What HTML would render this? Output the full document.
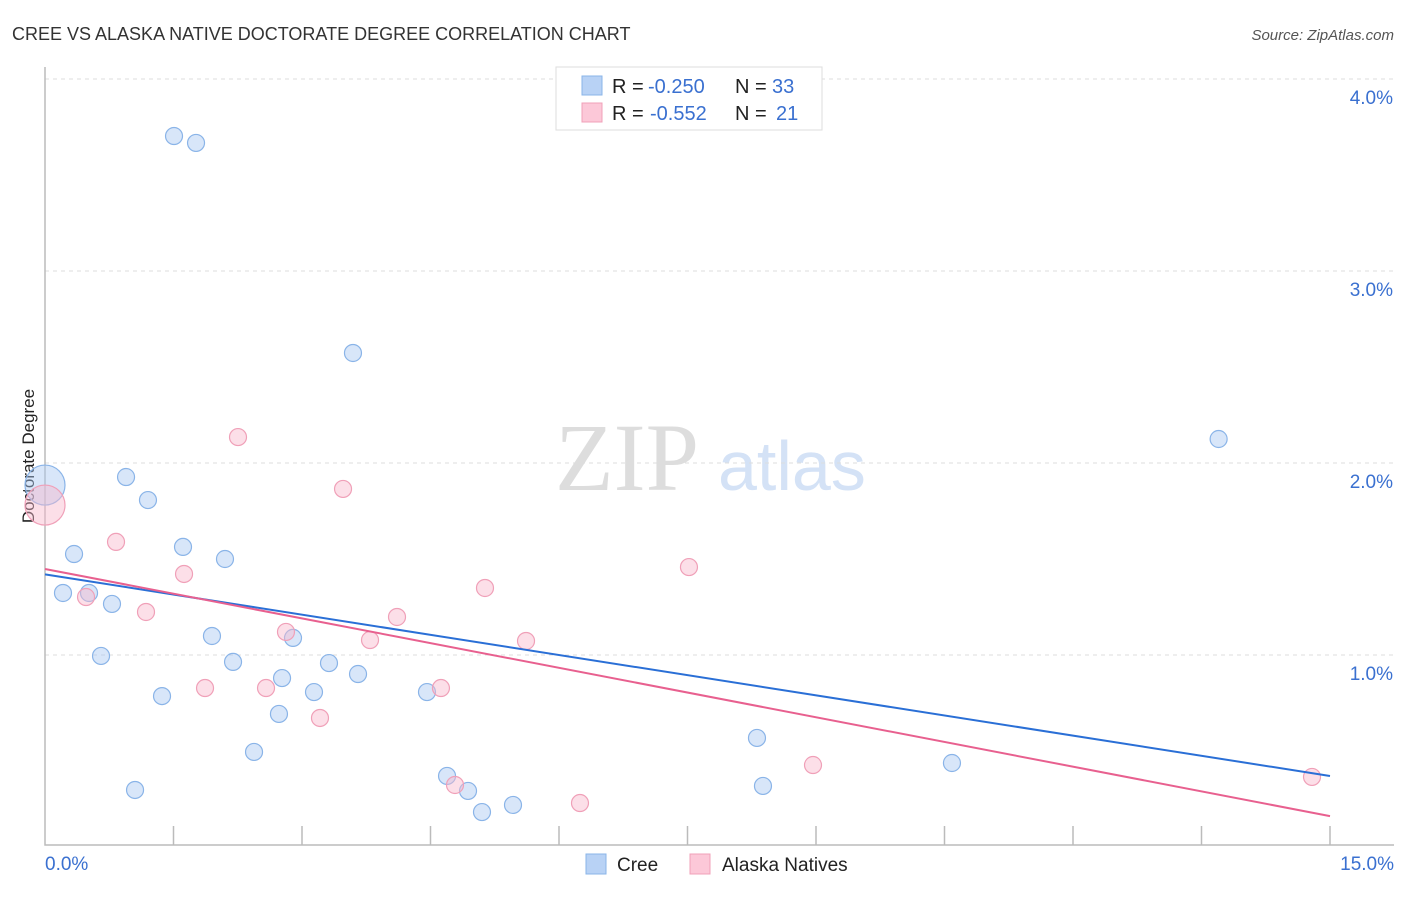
<!DOCTYPE html>
<html><head><meta charset="utf-8"><style>
body{margin:0;background:#fff;font-family:"Liberation Sans",sans-serif}
</style></head><body>
<svg id="c" width="1406" height="892" xmlns="http://www.w3.org/2000/svg">
<text x="12" y="40" font-size="18" fill="#333">CREE VS ALASKA NATIVE DOCTORATE DEGREE CORRELATION CHART</text>
<text x="1394" y="40" font-size="15" fill="#555" font-style="italic" text-anchor="end">Source: ZipAtlas.com</text>
<text x="34" y="456" font-size="17" fill="#222" text-anchor="middle" transform="rotate(-90 34 456)">Doctorate Degree</text>
<g><text x="555" y="490" font-size="96" fill="#ddd" font-family="Liberation Serif,serif">ZIP</text><text x="718" y="490" font-size="70" fill="#d4e2f6">atlas</text></g>
<g id="grid"></g><g id="pts"></g><g id="lines"></g>
<g>
<rect x="556" y="67" width="266" height="63" fill="#fff" stroke="#ddd"/>
<rect x="582" y="76" width="20" height="19" fill="#b8d2f5" stroke="#8ab4e8"/>
<rect x="582" y="103" width="20" height="19" fill="#fcc8d8" stroke="#f0a0b8"/>
<text x="612" y="93" font-size="20" fill="#222">R =</text>
<text x="648" y="93" font-size="20" fill="#3a70d0">-0.250</text>
<text x="735" y="93" font-size="20" fill="#222">N =</text>
<text x="772" y="93" font-size="20" fill="#3a70d0">33</text>
<text x="612" y="120" font-size="20" fill="#222">R =</text>
<text x="650" y="120" font-size="20" fill="#3a70d0">-0.552</text>
<text x="735" y="120" font-size="20" fill="#222">N =</text>
<text x="776" y="120" font-size="20" fill="#3a70d0">21</text>
</g>
<g>
<rect x="586" y="854" width="20" height="20" fill="#b8d2f5" stroke="#8ab4e8"/>
<text x="617" y="871" font-size="19" fill="#222">Cree</text>
<rect x="690" y="854" width="20" height="20" fill="#fcc8d8" stroke="#f0a0b8"/>
<text x="722" y="871" font-size="19" fill="#222">Alaska Natives</text>
</g>
</svg>
<script>
const creeX=[1.506,1.763,3.595,13.70,0.946,1.202,0.339,1.611,2.101,0.21,0.514,0.782,1.949,2.895,0.654,2.195,3.315,3.654,2.767,3.14,1.366,4.459,2.731,2.44,8.311,10.587,4.693,4.938,1.051,8.381,5.463,5.101,0];
const creeY=[3.703,3.667,2.573,2.125,1.927,1.807,1.526,1.563,1.5,1.323,1.323,1.266,1.099,1.089,0.995,0.964,0.958,0.901,0.880,0.807,0.786,0.807,0.693,0.495,0.568,0.4375,0.37,0.292,0.297,0.318,0.219,0.182,1.885];
const akX=[2.253,3.479,0,0.829,1.623,7.517,5.136,0.479,1.179,4.109,2.813,3.794,5.615,1.868,2.58,4.622,3.21,4.786,8.965,6.245,14.79];
const akY=[2.135,1.865,1.781,1.589,1.422,1.458,1.349,1.302,1.224,1.198,1.12,1.078,1.073,0.828,0.828,0.828,0.672,0.323,0.427,0.229,0.365];
const creeTrend=[1.42,0.37];
const akTrend=[1.448,0.161];
const yTicks=[1,2,3,4];
const xTickLabels=["0.0%","15.0%"];
const sx=v=>45+v/15*1285, sy=v=>847-v*192;
const NS="http://www.w3.org/2000/svg";
const svg=document.getElementById('c');
function mk(tag,attrs,parent){const e=document.createElementNS(NS,tag);for(const k in attrs)e.setAttribute(k,attrs[k]);parent.appendChild(e);return e;}
const grid=document.getElementById('grid');
yTicks.forEach(t=>{
 const l=mk('line',{x1:45,x2:1394,y1:sy(t),y2:sy(t),stroke:'#ddd','stroke-dasharray':'4,4'},grid);
 
 
 const tx=mk('text',{x:1393,y:sy(t)+25,'font-size':19,fill:'#3a70d0','text-anchor':'end'},grid);
 tx.textContent=t.toFixed(1)+'%';
 
 
});
const ax=mk('path',{d:'M45 67V845H1394',fill:'none',stroke:'#bbb','stroke-width':1.5},grid);


for(let i=1;i<=10;i++){const t=mk('line',{x1:sx(i*1.5),x2:sx(i*1.5),y1:826,y2:845,stroke:'#bbb','stroke-width':1.5},grid);
 
 }
[[0,45,'start'],[15,1394,'end']].forEach((a,i)=>{const t=mk('text',{x:a[1],y:870,'font-size':19,fill:'#3a70d0','text-anchor':a[2]},grid);t.textContent=xTickLabels[i];
 
 });
const pts=document.getElementById('pts');
function series(X,Y,fill,stroke,name){X.forEach((x,i)=>{const big=x===0;const c=mk('circle',{cx:sx(x),cy:sy(Y[i]),r:big?20:8.5,fill:fill,stroke:stroke,'stroke-width':1.2},pts);
 
 });}
series(creeX,creeY,'rgba(168,200,242,0.45)','#8ab4e8','cree-point');
series(akX,akY,'rgba(248,185,205,0.45)','#f0a0b8','alaska-native-point');
const lines=document.getElementById('lines');
const l1=mk('line',{x1:sx(0),y1:sy(creeTrend[0]),x2:sx(15),y2:sy(creeTrend[1]),stroke:'#2a6fd6','stroke-width':2},lines);


const l2=mk('line',{x1:sx(0),y1:sy(akTrend[0]),x2:sx(15),y2:sy(akTrend[1]),stroke:'#e8608f','stroke-width':2},lines);


</script>
</body></html>
